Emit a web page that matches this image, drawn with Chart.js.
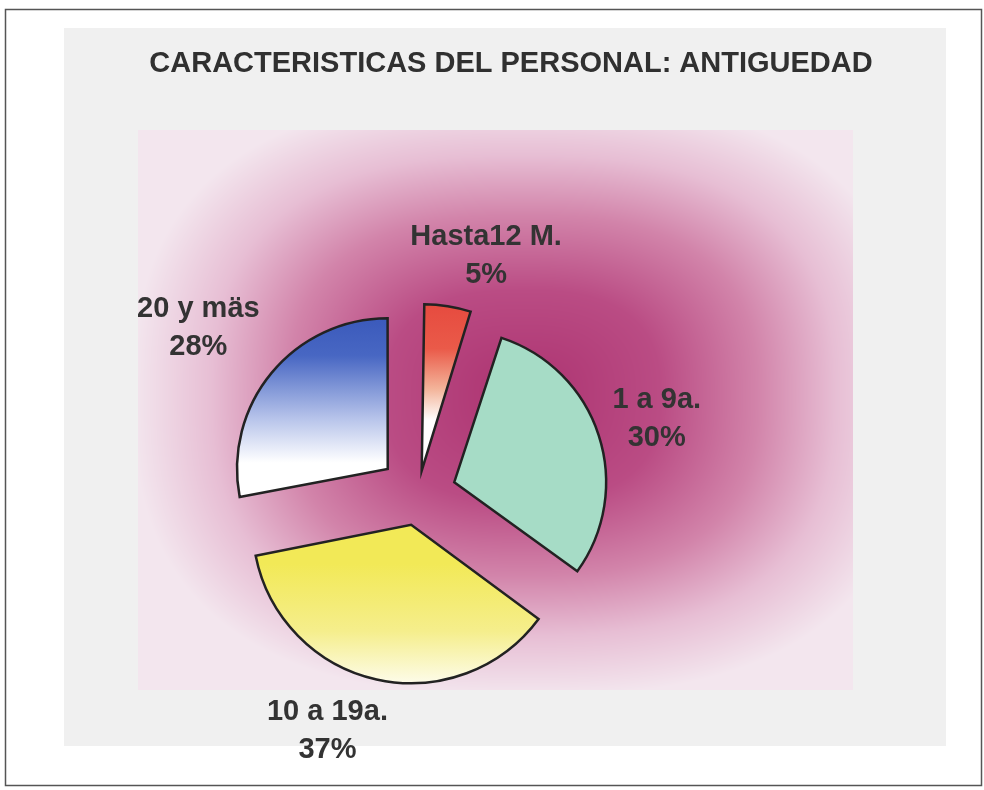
<!DOCTYPE html>
<html>
<head>
<meta charset="utf-8">
<script src="https://cdn.jsdelivr.net/npm/chart.js@4/dist/chart.umd.min.js"></script>
<style>
  html, body { margin: 0; padding: 0; background: #fff; }
  #wrap { width: 984px; height: 790px; }
</style>
</head>
<body>
<div id="wrap"><canvas id="pie" width="984" height="790"></canvas></div>
<script>
// ── Datos ──────────────────────────────────────────────
const titulo     = 'CARACTERISTICAS DEL PERSONAL: ANTIGUEDAD';
const categorias = ['Hasta12 M.', '1 a 9a.', '10 a 19a.', '20 y mäs'];
const valores    = [5, 30, 37, 28];

// colores de arriba hacia abajo (degradado vertical de cada porción)
const degradados = [
  [[0, '#e4433a'], [0.45, '#ea5a49'], [0.72, '#f3b49a'], [0.93, '#ffffff']],
  [[0, '#a6dcc6'], [1, '#a6dcc6']],
  [[0, '#f2e957'], [0.45, '#f5ee8c'], [0.88, '#ffffff']],
  [[0, '#3251b6'], [0.35, '#4867c3'], [0.7, '#b6c3ea'], [0.95, '#ffffff']],
];

// escala del fondo magenta: [t, r, g, b]
const fondoStops = [
  [0,    172, 50, 112],
  [0.35, 186, 76, 132],
  [0.6,  210, 132, 170],
  [0.8,  231, 190, 212],
  [1,    243, 230, 238],
];

const FONT = '"Liberation Sans", Arial, sans-serif';
const SEPARACION = 40;   // desplazamiento real de cada porción (px)

const total = valores.reduce((s, v) => s + v, 0);

// Chart.js traslada la porción offset/4 * (2 - sin(ángulo)); se compensa
// para que todas se separen lo mismo
function offsetPorcion(ctx) {
  const circ = 2 * Math.PI * valores[ctx.dataIndex] / total;
  return SEPARACION * 4 / (2 - Math.sin(Math.min(Math.PI, circ)));
}

// ── Degradado vertical ajustado a cada porción ─────────────
function rellenoPorcion(ctx) {
  const chart = ctx.chart;
  const i = ctx.dataIndex;
  const stops = degradados[i];
  const area = chart.chartArea;
  const ctrl = chart.getDatasetMeta(0).controller;
  if (!area || !ctrl || !ctrl.outerRadius) return stops[0][1];

  const r = ctrl.outerRadius;
  let ini = -Math.PI / 2;
  for (let k = 0; k < i; k++) ini += 2 * Math.PI * valores[k] / total;
  const fin = ini + 2 * Math.PI * valores[i] / total;
  const medio = (ini + fin) / 2;
  const cy = (area.top + area.bottom) / 2 + Math.sin(medio) * SEPARACION;

  let arriba = cy, abajo = cy;
  for (let k = 0; k <= 60; k++) {
    const a = ini + (fin - ini) * k / 60;
    const y = cy + Math.sin(a) * r;
    arriba = Math.min(arriba, y);
    abajo  = Math.max(abajo, y);
  }
  const g = chart.ctx.createLinearGradient(0, arriba, 0, abajo);
  stops.forEach(([p, c]) => g.addColorStop(p, c));
  return g;
}

// color del fondo para t en [0,1]
function colorFondo(t) {
  for (let k = 1; k < fondoStops.length; k++) {
    const a = fondoStops[k - 1], b = fondoStops[k];
    if (t <= b[0]) {
      const f = (t - a[0]) / (b[0] - a[0]);
      return [a[1] + (b[1] - a[1]) * f, a[2] + (b[2] - a[2]) * f, a[3] + (b[3] - a[3]) * f];
    }
  }
  const u = fondoStops[fondoStops.length - 1];
  return [u[1], u[2], u[3]];
}

// degradado "desde el centro" (casi rectangular), se genera una vez
let capaFondo = null;
function crearCapaFondo() {
  const w = 715, h = 560, cx = 385, cy = 265, hw = 390, hh = 300, p = 2.6;
  const cv = document.createElement('canvas');
  cv.width = w; cv.height = h;
  const c = cv.getContext('2d');
  const img = c.createImageData(w, h);
  for (let y = 0; y < h; y++) {
    for (let x = 0; x < w; x++) {
      const dx = Math.abs(x - cx) / hw, dy = Math.abs(y - cy) / hh;
      const t = Math.min(1, Math.pow(Math.pow(dx, p) + Math.pow(dy, p), 1 / p));
      const [r, g, b] = colorFondo(t);
      const o = (y * w + x) * 4;
      img.data[o] = r; img.data[o + 1] = g; img.data[o + 2] = b; img.data[o + 3] = 255;
    }
  }
  c.putImageData(img, 0, 0);
  return cv;
}

// ── Fondo: marco, trama gris y degradado magenta ───────────
const fondoPlugin = {
  id: 'fondo',
  beforeDraw(chart) {
    const c = chart.ctx;
    if (!capaFondo) capaFondo = crearCapaFondo();
    c.save();
    c.fillStyle = '#ffffff';
    c.fillRect(0, 0, chart.width, chart.height);

    c.fillStyle = '#f0f0f0';
    c.fillRect(64, 28, 882, 718);

    c.drawImage(capaFondo, 138, 130);

    // marco
    c.strokeStyle = '#555';
    c.lineWidth = 1.5;
    c.strokeRect(5.5, 9.5, 976, 776);

    // título
    c.fillStyle = '#303030';
    c.font = `bold 29px ${FONT}`;
    c.textAlign = 'center';
    c.textBaseline = 'middle';
    c.fillText(titulo, 511, 64);
    c.restore();
  }
};

// ── Etiquetas: nombre + porcentaje ─────────────────────────
const etiquetasPlugin = {
  id: 'etiquetas',
  afterDatasetsDraw(chart, args, opts) {
    const c = chart.ctx;
    const arcs = chart.getDatasetMeta(0).data;
    c.save();
    c.fillStyle = '#333';
    c.font = `bold 29px ${FONT}`;
    c.textAlign = 'center';
    c.textBaseline = 'middle';
    arcs.forEach((arc, i) => {
      const medio = (arc.startAngle + arc.endAngle) / 2;
      const d = arc.outerRadius + opts.distancia;
      const [dx, dy] = opts.ajuste[i];
      const x = arc.x + Math.cos(medio) * d + dx;
      const y = arc.y + Math.sin(medio) * d + dy;
      const pct = Math.round(valores[i] / total * 100) + '%';
      c.fillText(categorias[i], x, y - 19);
      c.fillText(pct, x, y + 19);
    });
    c.restore();
  }
};

new Chart(document.getElementById('pie'), {
  type: 'pie',
  data: {
    labels: categorias,
    datasets: [{
      data: valores,
      backgroundColor: rellenoPorcion,
      borderColor: '#222',
      borderWidth: 2.5,
      borderJoinStyle: 'miter',
      offset: offsetPorcion,
      hoverOffset: offsetPorcion,
    }],
  },
  options: {
    responsive: false,
    animation: false,
    events: [],
    radius: 150,
    layout: { padding: { left: 68, right: 216, top: 198, bottom: 0 } },
    plugins: {
      legend: { display: false },
      tooltip: { enabled: false },
      etiquetas: {
        distancia: 100,
        ajuste: [[29, 9], [1, 2], [-36, -7], [-27, -7]],
      },
    },
  },
  plugins: [fondoPlugin, etiquetasPlugin],
});
</script>
</body>
</html>
